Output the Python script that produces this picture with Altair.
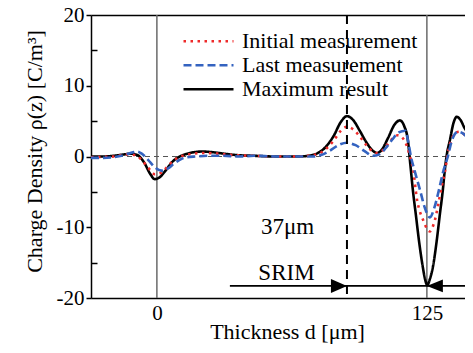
import altair as alt
import pandas as pd

FONT = "Liberation Serif"

SERIES = ["Initial measurement", "Last measurement", "Maximum result"]
COLORS = ["#ee2a2a", "#3463c0", "#000000"]
DASHES = [[2.5, 4.5], [8, 4], [1, 0]]

# Maximum result (black)
max_x = [-30.5, -25, -20, -15, -12, -9, -6, -3, -1, 1, 4, 7, 10, 13, 17, 21, 26, 31, 37, 45, 55, 65, 70,
         74, 78, 82, 85, 88, 91, 94, 97, 100, 102, 104, 107, 110, 112.5, 114.5, 116.2, 117.3, 118.5, 120,
         121.3, 123.1, 124.2, 125.2, 126.3, 127.8, 129.6, 131, 132.4, 133.2, 134.1, 135.8, 137.2, 138.8,
         140.5, 142.5, 144.5, 146.3]
max_y = [0.0, 0.0, 0.1, 0.3, 0.4, 0.2, -0.8, -2.5, -3.2, -3.0, -2.0, -0.8, -0.1, 0.3, 0.6, 0.7, 0.6, 0.4,
         0.2, 0.1, 0.0, 0.0, 0.1, 0.4, 1.3, 3.0, 4.8, 5.7, 5.1, 3.6, 2.0, 0.8, 0.5, 0.9, 2.6, 4.5, 5.1, 4.3,
         2.3, -1.0, -4.7, -8.5, -11.8, -15.6, -17.4, -18.2, -17.4, -15.6, -11.8, -8.2, -4.7, -2.2, 0.0, 2.5,
         4.6, 5.6, 5.2, 4.0, 3.1, 2.6]

# Initial measurement (red)
ini_x = [-30.5, -20, -14, -10, -7, -4, -1, 2, 5, 8, 12, 17, 22, 28, 35, 45, 55, 65, 70, 74, 78, 82, 85, 88,
         91, 94, 97, 100, 102, 105, 108, 111.5, 113.5, 115.6, 117, 118.5, 120.5, 122, 123.6, 125, 126.4,
         127.6, 128.7, 130.6, 132, 133.3, 134.7, 136.5, 138.5, 140, 142, 144, 146.3]
ini_y = [-0.1, 0.0, 0.3, 0.2, -0.5, -1.6, -2.5, -2.3, -1.4, -0.5, 0.1, 0.4, 0.5, 0.4, 0.2, 0.1, 0.0, 0.0,
         0.1, 0.3, 1.0, 2.3, 3.6, 4.2, 3.8, 2.8, 1.6, 0.7, 0.5, 1.0, 2.2, 3.0, 2.7, 1.6, 0.2, -1.6, -6.2,
         -8.0, -9.2, -10.2, -10.6, -10.0, -9.0, -6.2, -4.0, -2.3, 0.5, 2.5, 3.4, 3.5, 3.2, 2.6, 1.9]

# Last measurement (blue)
last_x = [-30.5, -25, -20, -15, -11, -9, -7, -4, -1, 2, 5, 8, 11, 14, 18, 24, 30, 38, 45, 55, 65, 72, 76,
          80, 84, 88, 92, 96, 100, 103, 106, 109, 112, 115, 116.3, 117.6, 119.5, 121.8, 124, 126.4, 128.5,
          130.6, 132.5, 134.7, 136.5, 139.4, 142, 144, 146.3]
last_y = [-0.2, -0.2, -0.1, 0.2, 0.6, 0.7, 0.4, -0.5, -1.5, -2.0, -1.7, -1.0, -0.4, -0.1, 0.0, 0.1, 0.1,
          0.0, 0.1, 0.0, 0.0, 0.0, 0.2, 0.8, 1.6, 1.95, 1.6, 0.8, 0.1, 0.3, 1.2, 2.4, 3.4, 3.65, 2.2, 0.0,
          -2.2, -4.7, -7.2, -8.6, -7.2, -4.7, -2.2, 0.0, 2.2, 3.5, 3.2, 2.6, 2.1]

# reference lines and annotations
solid_vlines = [0, 125]
dashed_vline = [88]
zero_line = [0]
arrow_start = [33.8]
arrow_end = [146.3]
arrow_level = [-18.3]
arrow_tips = [88, 125]
arrow_dirs = ["right", "left"]
labels_text = ["37μm", "SRIM"]
labels_x = [60.5, 60]
labels_y = [-9.9, -16.4]

X_DOMAIN = [-30.5, 142.65]
Y_DOMAIN = [-20, 20]
W, H = 374, 283

rows = []
for name, xs_, ys_ in [(SERIES[2], max_x, max_y), (SERIES[0], ini_x, ini_y), (SERIES[1], last_x, last_y)]:
    for i, (x, y) in enumerate(zip(xs_, ys_)):
        rows.append({"series": name, "d": x, "rho": y, "i": i})
df = pd.DataFrame(rows)

xs = alt.Scale(domain=X_DOMAIN, nice=False, zero=False)
ys = alt.Scale(domain=Y_DOMAIN, nice=False, zero=False)

main_x_axis = alt.Axis(orient="bottom", values=[0, 125], ticks=False, title="Thickness d [μm]",
                       labelFont=FONT, labelFontSize=21, labelColor="black", labelPadding=4,
                       titleFont=FONT, titleFontSize=22, titleFontWeight="normal", titleColor="black",
                       titleX=196, titleY=40, titleBaseline="alphabetic", domainColor="black",
                       domainWidth=1.5, grid=False)
main_y_axis = alt.Axis(orient="left", values=[-20, -10, 0, 10, 20], tickSize=5, tickColor="black",
                       tickWidth=1.5, labelExpr="'' + datum.value", labelFont=FONT, labelFontSize=21,
                       labelColor="black", labelPadding=2, title="Charge Density ρ(z) [C/m³]",
                       titleFont=FONT, titleFontSize=22, titleFontWeight="normal", titleColor="black",
                       titleX=-50, titleY=136, titleBaseline="alphabetic", domainColor="black",
                       domainWidth=1.5, grid=False)
minor_y_axis = alt.Axis(orient="left", values=[-15, -5, 5, 15], tickSize=6, offset=-6, labels=False,
                        domain=False, title=None, tickColor="black", tickWidth=1.5, grid=False)
top_axis = alt.Axis(orient="top", values=[0, 125], ticks=False, labels=False, domain=True,
                    domainColor="black", domainWidth=1.5, title=None, grid=False)

color_enc = alt.Color("series:N", scale=alt.Scale(domain=SERIES, range=COLORS),
                      legend=alt.Legend(title=None, orient="none", legendX=91, legendY=14.5,
                                        symbolType="stroke", symbolSize=2500, symbolStrokeWidth=2.5,
                                        labelFont=FONT, labelFontSize=22, labelColor="black",
                                        clipHeight=23.5, rowPadding=0, padding=0, labelOffset=7,
                                        labelLimit=400, symbolOffset=0))
dash_enc = alt.StrokeDash("series:N", scale=alt.Scale(domain=SERIES, range=DASHES), title=None)

vl = alt.Chart(pd.DataFrame({"d": solid_vlines})).mark_rule(color="#6a6a6a", strokeWidth=1.5).encode(
    x=alt.X("d:Q", scale=xs, axis=None))
hl = alt.Chart(pd.DataFrame({"rho": zero_line})).mark_rule(color="#555555", strokeWidth=1.2,
                                                           strokeDash=[5, 4]).encode(
    y=alt.Y("rho:Q", scale=ys, axis=minor_y_axis))
dvl = alt.Chart(pd.DataFrame({"d": dashed_vline})).mark_rule(color="black", strokeWidth=2,
                                                             strokeDash=[9, 6]).encode(
    x=alt.X("d:Q", scale=xs, axis=top_axis))

def series_layer(name, axes):
    return alt.Chart(df).transform_filter(alt.datum.series == name).mark_line(
        strokeWidth=2.6, interpolate="monotone", clip=True, strokeCap="butt").encode(
        x=alt.X("d:Q", scale=xs, axis=main_x_axis if axes else None),
        y=alt.Y("rho:Q", scale=ys, axis=main_y_axis if axes else None),
        color=color_enc, strokeDash=dash_enc, order="i:Q")

black = series_layer(SERIES[2], True)
red = series_layer(SERIES[0], False)
blue = series_layer(SERIES[1], False)

arrow_df = pd.DataFrame({"d": arrow_start, "d2": arrow_end, "rho": arrow_level})
arrow = alt.Chart(arrow_df).mark_rule(color="black", strokeWidth=1.8, clip=True).encode(
    x=alt.X("d:Q", scale=xs, axis=None), x2="d2:Q", y=alt.Y("rho:Q", scale=ys, axis=None))

tips_df = pd.DataFrame({"d": arrow_tips, "rho": arrow_level * 2, "dir": arrow_dirs})
heads = alt.Chart(tips_df).mark_point(filled=True, color="black", opacity=1, strokeWidth=0,
                                      size=256).encode(
    x=alt.X("d:Q", scale=xs, axis=None), y=alt.Y("rho:Q", scale=ys, axis=None),
    shape=alt.Shape("dir:N", scale=alt.Scale(domain=["right", "left"],
                                             range=["M0,0L-2,-0.875L-2,0.875Z",
                                                    "M0,0L2,-0.8L2,0.8Z"]), legend=None))

text_df = pd.DataFrame({"t": labels_text, "d": labels_x, "rho": labels_y})
texts = alt.Chart(text_df).mark_text(font=FONT, fontSize=23, color="black", baseline="middle",
                                     align="center").encode(
    x=alt.X("d:Q", scale=xs, axis=None), y=alt.Y("rho:Q", scale=ys, axis=None), text="t:N")

chart = alt.layer(vl, hl, black, red, blue, dvl, arrow, heads, texts).resolve_axis(
    x="independent", y="independent").properties(
    width=W, height=H, autosize=alt.AutoSizeParams(type="none"),
    padding={"left": 83, "top": 7, "right": 0, "bottom": 47}).configure_view(
    strokeWidth=0).configure_axis(grid=False)

chart.save("out.html", embed_options={"renderer": "svg", "actions": False})
